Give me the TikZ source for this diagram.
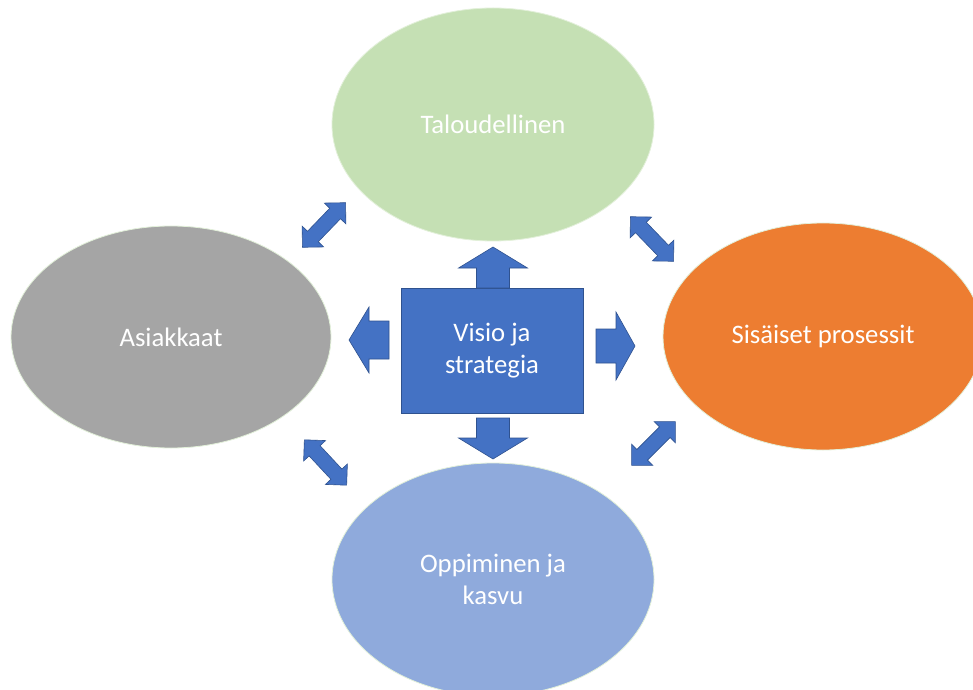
\documentclass[tikz,border=0pt]{standalone}
\usepackage{fontspec}
\setmainfont{Carlito}
\usetikzlibrary{shapes.geometric}
\definecolor{cgreen}{HTML}{C5E0B4}
\definecolor{cgrey}{HTML}{A5A5A5}
\definecolor{corange}{HTML}{ED7D31}
\definecolor{clblue}{HTML}{8FAADC}
\definecolor{cblue}{HTML}{4472C4}
\definecolor{cedge}{HTML}{2F528F}
\definecolor{crim}{HTML}{E2F0D9}
\tikzset{
  oval/.style={ellipse, draw=crim, line width=0.8pt, text=white, align=center,
    font=\fontsize{26.7}{32.5}\selectfont, inner sep=0pt},
  centerbox/.style={rectangle, fill=cblue, draw=cedge, line width=1pt, text=white,
    align=center, font=\fontsize{26.7}{32.5}\selectfont, inner sep=0pt},
  blk/.style={fill=cblue, draw=cedge, line width=0.6pt, line join=miter},
  pics/dblarrow/.style={code={
    \path[blk] (-31,0) -- (-16,15) -- (-16,7.5) -- (16,7.5) -- (16,15) -- (31,0)
      -- (16,-15) -- (16,-7.5) -- (-16,-7.5) -- (-16,-15) -- cycle;
    \coordinate (-a) at (-31,0);
    \coordinate (-b) at (31,0);
  }},
  pics/sglarrow/.style args={#1/#2/#3/#4}{code={
    \path[blk] (0,-#4) -- (#1-#2,-#4) -- (#1-#2,-#3) -- (#1,0) -- (#1-#2,#3)
      -- (#1-#2,#4) -- (0,#4) -- cycle;
    \coordinate (-tip) at (#1,0);
  }},
}
\begin{document}
\begin{tikzpicture}[x=1pt,y=1pt]
\useasboundingbox (0,0) rectangle (973,689);
\clip (0,0) rectangle (973,689);
\fill[white] (0,0) rectangle (973,689);

\node[oval, fill=cgreen, minimum width=322pt, minimum height=233pt] (fin) at (493,564.5) {Taloudellinen};
\node[oval, fill=cgrey, minimum width=320pt, minimum height=222pt] (cust) at (171,352) {Asiakkaat};
\node[oval, fill=corange, minimum width=320pt, minimum height=227pt] (proc) at (823,352.5) {Sisäiset prosessit};
\node[oval, fill=clblue, minimum width=322pt, minimum height=233pt] (learn) at (493,109.5) {Oppiminen ja\\kasvu};

\node[centerbox, minimum width=182pt, minimum height=125pt] (vis) at (492,338.5) {Visio ja\\strategia};

% single block arrows from the centre box
\pic[rotate=90] (aup) at (493,401) {sglarrow={41/21/34.5/16.5}};
\pic[rotate=-90] (adown) at (493,271) {sglarrow={41/21/34.5/16.5}};
\pic[rotate=180] (aleft) at (389,349) {sglarrow={40/20/33/19}};
\pic (aright) at (596,343) {sglarrow={39/19/34/17}};

% double block arrows between the ovals
\pic[rotate=46] (dtl) at (324,464) {dblarrow};
\pic[rotate=-46] (dtr) at (652,450) {dblarrow};
\pic[rotate=-47] (dbl) at (325.5,226.5) {dblarrow};
\pic[rotate=45] (dbr) at (653.5,245.5) {dblarrow};
\end{tikzpicture}
\end{document}
